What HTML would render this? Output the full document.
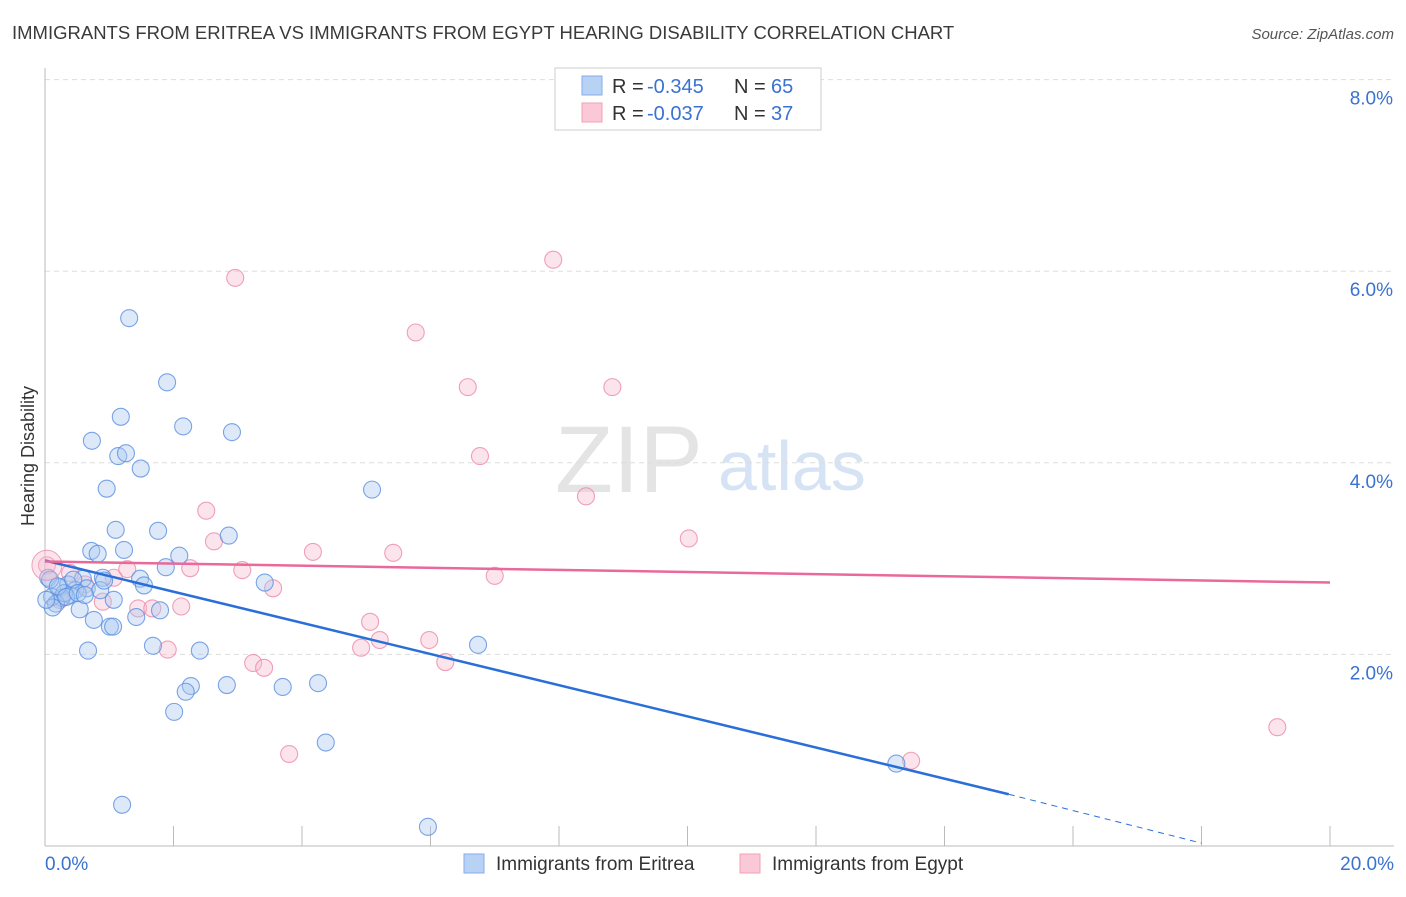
<!DOCTYPE html>
<html><head><meta charset="utf-8"><style>
body{margin:0;background:#fff;font-family:"Liberation Sans",sans-serif}
svg text{font-family:"Liberation Sans",sans-serif}
</style></head><body>
<svg id="chart" width="1406" height="892" viewBox="0 0 1406 892" xmlns="http://www.w3.org/2000/svg">
<text x="12" y="39" font-size="18.5" fill="#3a3a3a">IMMIGRANTS FROM ERITREA VS IMMIGRANTS FROM EGYPT HEARING DISABILITY CORRELATION CHART</text>
<text x="1394" y="39" font-size="15" fill="#555" font-style="italic" text-anchor="end">Source: ZipAtlas.com</text>
<text x="34" y="456" font-size="18" fill="#333" transform="rotate(-90 34 456)" text-anchor="middle">Hearing Disability</text>
<text x="555" y="492" font-size="95" fill="#e4e4e4" font-family="Liberation Serif">ZIP</text>
<text x="718" y="490" font-size="70" fill="#d6e3f5">atlas</text>
<g id="grid"></g><g id="marks"></g><g id="lines"></g>
<g>
<rect x="555" y="68" width="266" height="62" fill="#fff" stroke="#ccc"/>
<rect x="582" y="76" width="20" height="19" fill="#b8d2f5" stroke="#86aee8"/>
<rect x="582" y="103" width="20" height="19" fill="#fac8d6" stroke="#f0a0b8"/>
<text x="612" y="93" font-size="20" fill="#333">R =</text><text x="647" y="93" font-size="20" fill="#3a72d0">-0.345</text>
<text x="734" y="93" font-size="20" fill="#333">N =</text><text x="771" y="93" font-size="20" fill="#3a72d0">65</text>
<text x="612" y="120" font-size="20" fill="#333">R =</text><text x="647" y="120" font-size="20" fill="#3a72d0">-0.037</text>
<text x="734" y="120" font-size="20" fill="#333">N =</text><text x="771" y="120" font-size="20" fill="#3a72d0">37</text>
</g>
<g>
<rect x="464" y="854" width="20" height="19" fill="#b8d2f5" stroke="#86aee8"/>
<text x="496" y="870" font-size="19" fill="#333">Immigrants from Eritrea</text>
<rect x="740" y="854" width="20" height="19" fill="#fac8d6" stroke="#f0a0b8"/>
<text x="772" y="870" font-size="19" fill="#333">Immigrants from Egypt</text>
</g>
</svg>
<script>
const yTicks=[2,4,6,8];
const xTickLabels=["0.0%","20.0%"];
const blueX=[1.31,1.90,1.18,2.15,2.91,0.73,1.14,1.26,1.49,0.96,5.09,1.10,1.76,2.86,0.72,0.82,1.23,2.09,1.88,0.05,0.59,0.90,1.48,3.42,1.54,0.23,0.36,0.47,0.65,0.86,0.39,0.26,0.11,1.07,0.17,0.12,0.54,0.76,1.42,1.79,1.01,1.06,6.74,1.68,2.41,0.67,2.27,2.19,2.83,3.70,4.25,2.01,4.37,13.25,1.20,5.96,0.08,0.30,0.44,0.20,0.33,0.51,0.62,0.92,0.02];
const blueY=[5.51,4.84,4.48,4.38,4.32,4.23,4.07,4.10,3.94,3.73,3.72,3.30,3.29,3.24,3.08,3.05,3.09,3.03,2.91,2.80,2.79,2.80,2.79,2.75,2.72,2.70,2.73,2.67,2.69,2.67,2.62,2.59,2.60,2.57,2.53,2.49,2.47,2.36,2.39,2.46,2.29,2.29,2.10,2.09,2.04,2.04,1.67,1.61,1.68,1.66,1.70,1.40,1.08,0.86,0.43,0.20,2.78,2.64,2.78,2.71,2.60,2.64,2.62,2.77,2.57];
const pinkX=[7.91,2.96,5.77,6.58,8.83,6.77,8.42,2.51,10.02,2.63,4.17,5.42,3.07,2.26,7.00,1.07,0.39,1.28,3.55,0.03,0.90,1.45,1.67,2.12,5.06,5.21,5.98,4.92,1.91,6.23,3.24,3.41,3.80,13.48,19.18,0.23,0.62];
const pinkY=[6.12,5.93,5.36,4.79,4.79,4.07,3.65,3.50,3.21,3.18,3.07,3.06,2.88,2.90,2.82,2.80,2.85,2.89,2.69,2.93,2.55,2.48,2.48,2.50,2.34,2.15,2.15,2.07,2.05,1.92,1.91,1.86,0.96,0.89,1.24,2.57,2.73];
const blueTrend=[0,2.98,15,0.54,18,0.03];
const pinkTrend=[0,2.97,20,2.75];
const NS="http://www.w3.org/2000/svg";
const X=v=>45+v*64.25, Y=v=>846-v*95.8;
function mk(t,a,p){const e=document.createElementNS(NS,t);for(const k in a)e.setAttribute(k,a[k]);p.appendChild(e);return e;}
const grid=document.getElementById('grid'),marks=document.getElementById('marks'),lines=document.getElementById('lines');
yTicks.forEach(t=>{
 const l=mk('line',{x1:45,x2:1394,y1:Y(t),y2:Y(t),stroke:'#ddd','stroke-dasharray':'5,4'},grid);
 
 
 const tx=mk('text',{x:1393,y:Y(t)+25,'font-size':19,fill:'#3a72d0','text-anchor':'end'},grid);
 tx.textContent=t.toFixed(1)+'%';
 
 
});
mk('line',{x1:45,x2:45,y1:68,y2:846,stroke:'#bbb'},grid);
mk('line',{x1:45,x2:1394,y1:846,y2:846,stroke:'#bbb'},grid);
for(let i=0;i<=10;i++){const t=mk('line',{x1:X(i*2),x2:X(i*2),y1:826,y2:846,stroke:'#bbb'},grid);
 
 }
[[0,'start',45],[20,'end',1394]].forEach((d,i)=>{const t=mk('text',{x:d[2],y:870,'font-size':19,fill:'#3a72d0','text-anchor':d[1]},grid);t.textContent=xTickLabels[i];
 
 });
function pts(xs,ys,fill,stroke,name){xs.forEach((x,i)=>{const c=mk('circle',{cx:X(x),cy:Y(ys[i]),r:8.5,fill:fill,'fill-opacity':0.4,stroke:stroke,'stroke-opacity':0.8,'stroke-width':1.1},marks);
 
 });}
pts(pinkX,pinkY,'#f8bcd0','#ec8aa8','point-egypt');
pts(blueX,blueY,'#a9c8f0','#5a8ee0','point-eritrea');
mk('circle',{cx:X(0.03),cy:Y(2.93),r:15,fill:'#f8bcd0','fill-opacity':0.4,stroke:'#ec8aa8','stroke-opacity':0.8},marks);
let l=mk('line',{x1:X(blueTrend[0]),y1:Y(blueTrend[1]),x2:X(blueTrend[2]),y2:Y(blueTrend[3]),stroke:'#2a6fd8','stroke-width':2.5},lines);


l=mk('line',{x1:X(blueTrend[2]),y1:Y(blueTrend[3]),x2:X(blueTrend[4]),y2:Y(blueTrend[5]),stroke:'#2a6fd8','stroke-width':1,'stroke-dasharray':'6,5'},lines);


l=mk('line',{x1:X(pinkTrend[0]),y1:Y(pinkTrend[1]),x2:X(pinkTrend[2]),y2:Y(pinkTrend[3]),stroke:'#e8699a','stroke-width':2.5},lines);


</script>
</body></html>
